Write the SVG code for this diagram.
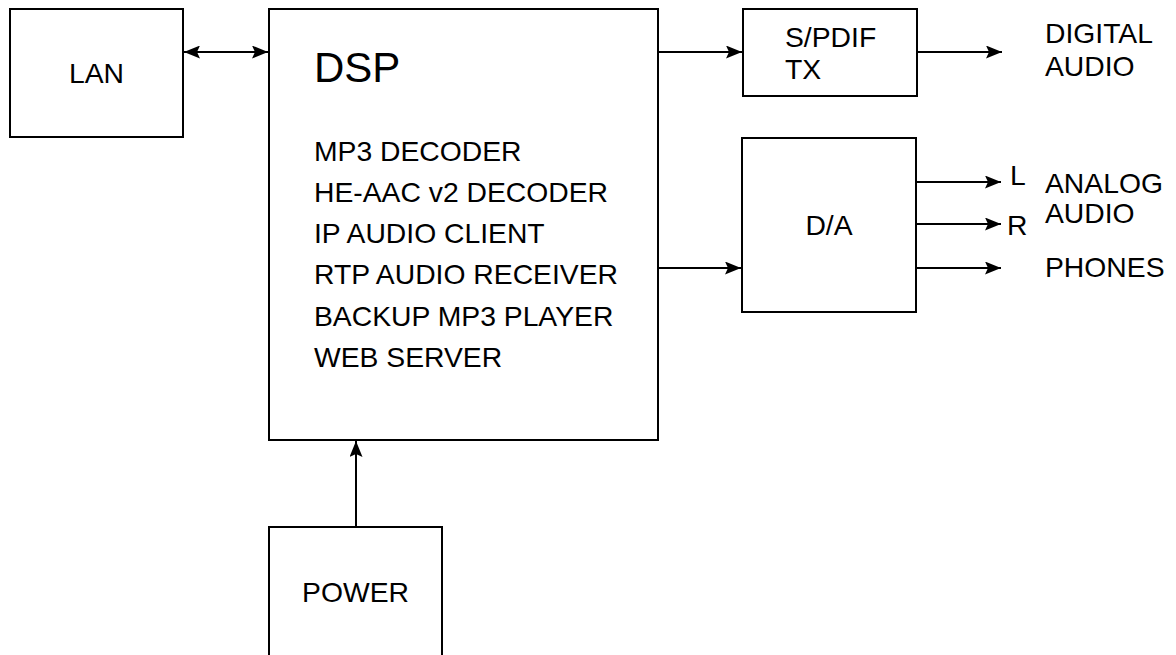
<svg xmlns="http://www.w3.org/2000/svg" width="1176" height="655" viewBox="0 0 1176 655">
<defs>
<style>
.box{fill:#fff;stroke:#000;stroke-width:2}
.t{font-family:"Liberation Sans",Arial,sans-serif;font-size:28.3px;fill:#000}
.big{font-size:42px}
.ln{stroke:#000;stroke-width:2;fill:none}
</style>
<marker id="ah" viewBox="0 0 16 13" refX="16" refY="6.5" markerWidth="16" markerHeight="13" markerUnits="userSpaceOnUse" orient="auto-start-reverse">
<path d="M0,0 L16,6.5 L0,13 L3,6.5 z" fill="#000"/>
</marker>
</defs>
<rect width="1176" height="655" fill="#fff"/>
<g id="connectors">
<line class="ln" x1="184" y1="52" x2="268" y2="52" marker-start="url(#ah)" marker-end="url(#ah)"/>
<line class="ln" x1="658" y1="52" x2="742" y2="52" marker-end="url(#ah)"/>
<line class="ln" x1="917" y1="52" x2="1002" y2="52" marker-end="url(#ah)"/>
<line class="ln" x1="658" y1="268" x2="741" y2="268" marker-end="url(#ah)"/>
<line class="ln" x1="916" y1="182" x2="1001" y2="182" marker-end="url(#ah)"/>
<line class="ln" x1="916" y1="224" x2="1001" y2="224" marker-end="url(#ah)"/>
<line class="ln" x1="916" y1="268" x2="1001" y2="268" marker-end="url(#ah)"/>
<line class="ln" x1="356" y1="527" x2="356" y2="441" marker-end="url(#ah)"/>
</g>
<g id="lan">
<rect class="box" x="10" y="9" width="173" height="128"/>
<text class="t" x="96.5" y="83" text-anchor="middle">LAN</text>
</g>
<g id="dsp">
<rect class="box" x="269" y="9" width="389" height="431"/>
<text class="t big" x="314" y="82">DSP</text>
<text class="t" x="314" y="160.5">MP3 DECODER</text>
<text class="t" x="314" y="202">HE-AAC v2 DECODER</text>
<text class="t" x="314" y="243">IP AUDIO CLIENT</text>
<text class="t" x="314" y="284">RTP AUDIO RECEIVER</text>
<text class="t" x="314" y="326">BACKUP MP3 PLAYER</text>
<text class="t" x="314" y="367">WEB SERVER</text>
</g>
<g id="spdif">
<rect class="box" x="743" y="9" width="174" height="87"/>
<text class="t" x="785" y="47">S/PDIF</text>
<text class="t" x="785" y="79">TX</text>
</g>
<g id="da">
<rect class="box" x="742" y="138" width="174" height="174"/>
<text class="t" x="829" y="235" text-anchor="middle">D/A</text>
</g>
<g id="power">
<rect class="box" x="269" y="527" width="173" height="140"/>
<text class="t" x="355.5" y="602" text-anchor="middle">POWER</text>
</g>
<g id="labels">
<text class="t" x="1045" y="43">DIGITAL</text>
<text class="t" x="1045" y="76">AUDIO</text>
<text class="t" x="1010" y="185">L</text>
<text class="t" x="1007" y="235">R</text>
<text class="t" x="1045" y="193">ANALOG</text>
<text class="t" x="1045" y="223">AUDIO</text>
<text class="t" x="1045" y="277">PHONES</text>
</g>
</svg>
